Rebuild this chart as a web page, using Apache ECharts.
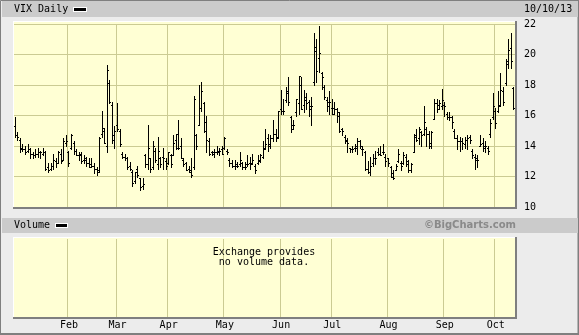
<!DOCTYPE html>
<html><head><meta charset="utf-8">
<script src="https://cdn.jsdelivr.net/npm/echarts@6/dist/echarts.min.js"></script>
<style>html,body{margin:0;padding:0;background:#ececec}#c{width:579px;height:335px}</style>
</head><body><div id="c"></div>
<script>
// ---- data ----
const monthNames = ['Jan','Feb','Mar','Apr','May','Jun','Jul','Aug','Sep','Oct'];
const tradingDays = [
  [2,3,4,7,8,9,10,11,14,15,16,17,18,22,23,24,25,28,29,30,31],
  [1,4,5,6,7,8,11,12,13,14,15,19,20,21,22,25,26,27,28],
  [1,4,5,6,7,8,11,12,13,14,15,18,19,20,21,22,25,26,27,28],
  [1,2,3,4,5,8,9,10,11,12,15,16,17,18,19,22,23,24,25,26,29,30],
  [1,2,3,6,7,8,9,10,13,14,15,16,17,20,21,22,23,24,28,29,30,31],
  [3,4,5,6,7,10,11,12,13,14,17,18,19,20,21,24,25,26,27,28],
  [1,2,3,5,8,9,10,11,12,15,16,17,18,19,22,23,24,25,26,29,30,31],
  [1,2,5,6,7,8,9,12,13,14,15,16,19,20,21,22,23,26,27,28,29,30],
  [3,4,5,6,9,10,11,12,13,16,17,18,19,20,23,24,25,26,27,30],
  [1,2,3,4,7,8,9,10]
];
const yTicks = [10,12,14,16,18,20,22];

const opens = [
  15.3,14.7,14.4,13.9,13.8,13.7,13.8,13.5,13.4,13.5,13.6,13.5,13.6,12.6,12.5,12.7,13.0,12.9,13.5,13.1,14.2,
  13.6,13.9,14.2,13.7,13.4,13.4,13.1,13.1,12.9,12.8,12.7,12.5,12.4,14.8,15.0,14.0,18.1,16.7,14.4,
  15.4,15.0,13.5,13.3,13.2,12.7,12.3,11.7,12.5,11.9,11.4,13.4,12.8,13.2,12.6,13.7,12.8,13.2,13.3,13.0,
  12.9,13.4,13.4,14.4,14.8,14.0,13.1,12.9,12.5,12.3,12.6,14.7,15.4,16.5,16.8,15.6,14.3,13.6,13.5,13.6,13.7,13.8,
  13.9,13.7,13.1,12.9,12.7,12.7,12.8,12.9,12.6,12.8,12.9,12.9,12.7,12.9,13.1,13.3,13.9,14.5,14.1,14.5,14.8,14.6,
  16.4,16.3,17.0,17.6,15.9,15.4,16.2,16.8,18.0,16.7,17.0,16.9,16.4,18.2,20.2,19.8,18.8,17.9,17.0,16.6,
  16.5,16.5,16.4,16.0,15.1,14.6,14.4,13.9,13.8,13.9,13.9,14.3,13.8,13.6,12.5,12.3,12.9,13.2,13.6,13.5,13.6,13.3,
  13.2,12.6,12.2,12.4,13.0,12.9,12.9,13.3,13.0,12.4,13.6,14.6,14.5,14.9,14.8,15.1,14.8,14.2,15.8,16.8,16.7,16.6,
  16.7,16.1,15.9,15.9,15.0,14.5,14.3,14.3,14.1,14.4,14.6,13.7,13.3,13.1,14.0,14.2,14.0,13.9,14.8,15.9,
  16.3,16.3,16.7,17.6,18.1,19.6,20.4,17.8
];
const highs = [
  15.9,14.9,14.5,14.1,14.0,14.1,13.9,13.6,13.8,13.9,13.7,13.9,13.7,12.9,12.9,13.5,13.2,13.7,13.8,14.5,14.7,
  13.7,14.8,14.3,13.8,13.6,13.6,13.4,13.3,13.2,13.2,12.9,12.6,14.6,16.3,15.2,19.3,18.3,16.9,15.3,
  16.8,15.1,13.6,13.5,13.3,12.95,12.4,12.3,12.7,11.9,11.9,13.5,15.4,13.2,14.3,13.9,14.6,13.3,13.9,13.2,
  13.6,13.5,14.7,14.8,15.7,14.5,13.2,12.95,12.7,13.2,17.3,14.8,18.0,18.2,16.9,16.0,14.5,13.7,13.8,14.0,13.9,14.0,
  14.6,13.8,13.2,13.1,13.1,12.95,13.6,12.95,12.95,13.4,13.3,13.5,12.8,13.4,13.5,14.3,15.1,14.8,14.7,15.7,15.1,16.3,
  17.65,17.1,17.9,18.5,16.0,15.7,17.1,18.6,18.5,17.65,17.5,17.0,17.2,21.4,21.0,21.9,18.85,18.0,17.2,17.6,
  17.1,16.9,16.5,16.2,15.2,14.7,14.5,13.9,14.0,14.1,14.5,14.4,14.0,13.7,13.0,13.3,13.5,13.7,13.9,14.0,14.1,13.5,
  13.2,12.7,12.4,12.8,13.8,13.0,13.6,13.5,13.1,12.9,14.8,15.1,15.25,15.0,16.6,15.25,15.0,15.0,17.1,17.1,17.0,17.75,
  16.9,16.2,16.2,16.0,15.1,14.7,14.6,14.5,14.6,14.7,14.7,13.8,13.5,13.4,14.7,14.5,14.3,14.0,15.8,17.5,
  16.5,17.6,18.8,17.9,19.7,21.0,21.4,17.9
];
const lows = [
  14.6,14.4,13.6,13.7,13.5,13.6,13.2,13.2,13.3,13.3,13.2,13.4,12.4,12.3,12.4,12.5,12.6,12.9,12.9,13.1,14.0,
  12.7,13.8,13.5,13.4,13.1,12.9,12.9,12.7,12.6,12.6,12.2,12.1,12.3,14.6,14.2,13.6,16.8,14.2,13.9,
  15.0,14.0,13.2,13.05,12.5,12.4,11.4,11.6,12.0,11.1,11.2,12.6,12.5,12.3,12.5,12.95,12.5,12.6,12.5,12.5,
  12.85,12.6,13.4,13.8,13.8,13.2,12.7,12.4,12.3,12.0,12.5,13.8,15.35,16.3,14.9,13.6,13.4,13.4,13.3,13.5,13.4,13.5,
  13.8,13.5,12.7,12.6,12.5,12.6,12.7,12.5,12.5,12.7,12.5,12.85,12.2,12.85,12.95,13.2,13.8,13.7,13.9,14.3,14.3,14.5,
  16.1,16.1,16.9,16.7,14.9,15.1,16.0,16.1,16.4,16.2,16.4,16.0,15.35,18.0,18.2,18.85,17.75,17.1,16.3,16.1,
  16.1,16.1,15.6,14.9,14.7,14.2,13.6,13.6,13.6,13.7,13.5,13.9,13.4,12.4,12.2,12.1,12.7,12.8,13.4,13.4,13.5,12.7,
  12.7,12.0,11.85,12.4,12.95,12.4,12.8,12.7,12.3,12.3,13.6,14.3,14.15,14.0,14.7,14.0,13.9,13.9,15.8,16.2,16.45,16.45,
  16.0,15.8,15.7,15.2,14.5,13.8,13.7,13.8,13.9,13.8,14.2,13.2,12.5,12.6,14.0,13.7,13.6,13.5,14.6,15.8,
  15.2,16.2,16.6,16.7,18.0,19.1,19.1,16.4
];
const closes = [
  14.7,14.6,13.8,13.8,13.6,13.8,13.5,13.4,13.5,13.6,13.6,13.6,12.5,12.4,12.7,13.1,12.9,13.6,13.0,14.3,14.3,
  12.9,14.7,13.7,13.4,13.5,13.0,13.2,12.9,12.6,12.7,12.5,12.3,14.5,15.2,14.2,19.0,16.9,14.7,15.0,
  15.1,14.1,13.3,13.2,12.6,12.5,11.6,12.3,12.1,11.3,11.5,12.8,13.9,12.5,14.0,13.1,13.7,12.8,13.2,12.7,
  13.6,12.8,14.2,13.9,13.9,13.2,12.8,12.4,12.4,12.1,17.1,14.0,16.5,17.6,15.0,14.4,13.5,13.6,13.6,13.6,13.7,13.5,
  14.5,13.6,12.9,12.7,12.8,12.7,13.1,12.6,12.6,12.8,12.8,13.1,12.4,13.0,13.4,13.8,14.1,14.0,14.5,14.8,14.5,16.3,
  16.3,16.3,17.5,16.9,15.1,15.4,17.1,18.6,16.4,17.2,16.8,16.6,16.6,20.5,18.9,20.1,18.5,17.2,16.9,16.9,
  16.1,16.4,16.2,15.0,15.0,14.3,14.2,13.8,13.8,14.0,14.3,14.0,13.8,12.5,12.3,12.7,13.2,13.2,13.5,13.4,13.6,13.0,
  12.9,12.0,11.9,12.7,13.5,12.7,13.4,12.8,12.4,12.8,14.7,14.4,15.1,14.7,15.6,14.8,14.0,14.9,16.8,16.4,16.8,17.0,
  16.6,15.9,15.9,15.6,14.5,14.3,14.3,14.2,14.4,14.5,14.4,13.4,13.2,13.1,14.1,13.9,14.0,13.7,15.5,16.6,
  15.5,16.6,17.7,16.9,19.4,20.3,19.6,16.5
];

// ---- build categories ----
const cats = [], monthStart = [], monthLabel = [];
tradingDays.forEach((days, m) => {
  days.forEach((d, k) => {
    cats.push('2013-' + (m + 1) + '-' + d);
    monthStart.push(k === 0 && m > 0);
    monthLabel.push(k === 0 ? monthNames[m] : '');
  });
});
const data = cats.map((c, i) => [i, opens[i], highs[i], lows[i], closes[i]]);

const FONT = 'DejaVu Sans Mono';
const YEL = '#ffffd4';
const GRIDC = '#cbcb93';
const DARK = '#7f7f7f';
const HEAD = '#cbcbcb';

function renderItem(params, api) {
  const i = api.value(0);
  const o = api.coord([i, api.value(1)]);
  const h = api.coord([i, api.value(2)]);
  const l = api.coord([i, api.value(3)]);
  const c = api.coord([i, api.value(4)]);
  const x = Math.floor(h[0]) + 0.5;
  const yo = Math.round(o[1]) + 0.5, yc = Math.round(c[1]) + 0.5;
  const st = {stroke: '#000', lineWidth: 1};
  return {type: 'group', children: [
    {type: 'line', shape: {x1: x, y1: Math.round(h[1]), x2: x, y2: Math.round(l[1]) + 1}, style: st},
    {type: 'line', shape: {x1: x - 1.5, y1: yo, x2: x, y2: yo}, style: st},
    {type: 'line', shape: {x1: x, y1: yc, x2: x + 1.5, y2: yc}, style: st}
  ]};
}

const txt = (x, y, s, extra) => Object.assign({type: 'text', z: 100, x: x, y: y,
  style: Object.assign({text: s, fill: '#000', font: '10px ' + FONT, textVerticalAlign: 'middle', verticalAlign: 'middle'}, extra || {})});
const rect = (x, y, w, h, fill, z) => ({type: 'rect', z: z, shape: {x: x, y: y, width: w, height: h}, style: {fill: fill}});

const chart = echarts.init(document.getElementById('c'), null, {renderer: 'canvas', width: 579, height: 335});
chart.setOption({
  animation: false,
  backgroundColor: '#ececec',
  grid: [
    {left: 14, top: 24, width: 501, height: 183, outerBoundsMode: 'none', containLabel: false},
    {left: 14, top: 239, width: 501, height: 78, outerBoundsMode: 'none', containLabel: false}
  ],
  xAxis: [
    {type: 'category', gridIndex: 0, data: cats, boundaryGap: true,
     axisLine: {show: false}, axisTick: {show: false}, axisLabel: {show: false},
     splitLine: {show: true, interval: (i) => monthStart[i], lineStyle: {color: GRIDC, width: 1}}},
    {type: 'category', gridIndex: 1, data: cats, boundaryGap: true,
     axisLine: {show: false}, axisTick: {show: false},
     axisLabel: {show: true, interval: (i) => monthStart[i], formatter: (v, i) => monthLabel[i],
       color: '#000', fontFamily: FONT, fontSize: 10, margin: 3, hideOverlap: false},
     splitLine: {show: true, interval: (i) => monthStart[i], lineStyle: {color: GRIDC, width: 1}}}
  ],
  yAxis: [
    {type: 'value', gridIndex: 0, position: 'right', min: yTicks[0], max: yTicks[yTicks.length - 1], interval: 2,
     axisLine: {show: false}, axisTick: {show: false},
     axisLabel: {margin: 9, color: '#000', fontFamily: FONT, fontSize: 10},
     splitLine: {show: true, lineStyle: {color: GRIDC, width: 1}}},
    {type: 'value', gridIndex: 1, min: 0, max: 1, show: false, splitLine: {show: false}}
  ],
  series: [{
    type: 'custom', xAxisIndex: 0, yAxisIndex: 0, renderItem: renderItem, data: data,
    encode: {x: 0, y: [1, 2, 3, 4]}, clip: true, z: 5
  }],
  graphic: [
    {type: 'rect', z: -20, shape: {x: 0.5, y: 0.5, width: 577.5, height: 333}, style: {fill: '#ececec', stroke: DARK, lineWidth: 1}},
    rect(0, 333, 579, 2, DARK, -19),
    rect(578, 0, 1, 335, DARK, -19),
    rect(2, 1, 576, 16, HEAD, -18),
    rect(2, 218, 576, 15, HEAD, -18),
    rect(13, 21, 503, 188, '#ffffff', -17),
    rect(14, 22, 501, 185, YEL, -16),
    rect(13, 207, 504, 2, DARK, 90),
    rect(515, 21, 2, 188, DARK, 90),
    rect(13, 237, 503, 82, '#ffffff', -17),
    rect(14, 238, 501, 79, YEL, -16),
    rect(13, 317, 504, 2, DARK, 90),
    rect(515, 237, 2, 82, DARK, 90),
    txt(14, 9.5, 'VIX Daily'),
    rect(73, 7, 14, 5, '#ffffff', 100),
    rect(74, 8, 12, 3, '#000000', 101),
    txt(524, 9.5, '10/10/13'),
    txt(14, 225.5, 'Volume'),
    rect(55, 223, 13, 5, '#ffffff', 100),
    rect(56, 224, 11, 3, '#000000', 101),
    txt(516, 225.5, '©BigCharts.com', {fill: '#8a8a8a', font: 'bold 10px "DejaVu Sans"', textAlign: 'right', align: 'right'}),
    txt(264, 252, 'Exchange provides', {textAlign: 'center', align: 'center'}),
    txt(264, 262, 'no volume data.', {textAlign: 'center', align: 'center'})
  ]
});
</script>
</body></html>
